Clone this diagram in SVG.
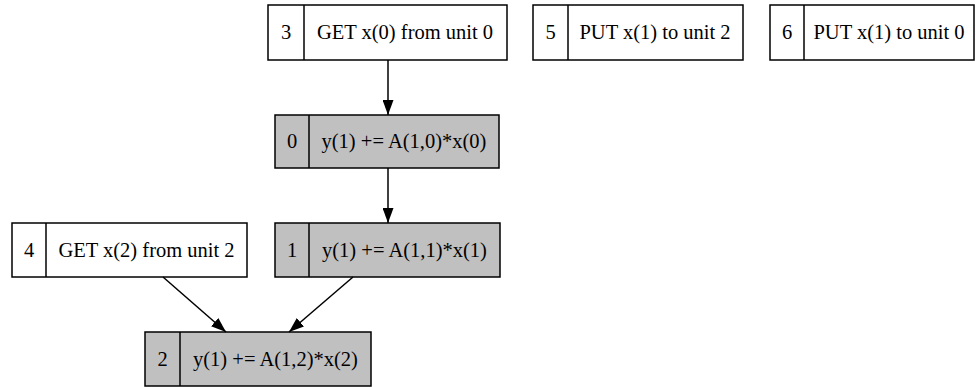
<svg xmlns="http://www.w3.org/2000/svg" width="976" height="387" viewBox="0 0 976 387">
  <style>
    .box { stroke: #000; stroke-width: 1.5; }
    .put { fill: #fff; }
    .op { fill: #c0c0c0; }
    .sep { stroke: #000; stroke-width: 1.5; }
    text { font-family: "Liberation Serif", "Times New Roman", serif; font-size: 20.5px; fill: #000; text-anchor: middle; }
    .edge { stroke: #000; stroke-width: 1.5; fill: none; marker-end: url(#arrow); }
  </style>
  <defs>
    <marker id="arrow" viewBox="0 0 15 11" refX="15" refY="5.5" markerWidth="15" markerHeight="11" markerUnits="userSpaceOnUse" orient="auto">
      <path d="M0,0 L15,5.5 L0,11 Z" fill="#000"/>
    </marker>
  </defs>

  <g id="node3">
    <rect class="box put" x="268" y="5" width="239" height="55"/>
    <line class="sep" x1="304" y1="5" x2="304" y2="60"/>
    <text x="286" y="39">3</text>
    <text x="405" y="39">GET x(0) from unit 0</text>
  </g>

  <g id="node5">
    <rect class="box put" x="533" y="5" width="210" height="55"/>
    <line class="sep" x1="568" y1="5" x2="568" y2="60"/>
    <text x="550.5" y="39">5</text>
    <text x="655" y="39">PUT x(1) to unit 2</text>
  </g>

  <g id="node6">
    <rect class="box put" x="770" y="5" width="204" height="55"/>
    <line class="sep" x1="804" y1="5" x2="804" y2="60"/>
    <text x="787" y="39">6</text>
    <text x="889" y="39">PUT x(1) to unit 0</text>
  </g>

  <g id="node0">
    <rect class="box op" x="275" y="115" width="224" height="53"/>
    <line class="sep" x1="309" y1="115" x2="309" y2="168"/>
    <text x="292" y="148">0</text>
    <text x="404" y="148">y(1) += A(1,0)*x(0)</text>
  </g>

  <g id="node4">
    <rect class="box put" x="12" y="223" width="235" height="54"/>
    <line class="sep" x1="46" y1="223" x2="46" y2="277"/>
    <text x="29" y="257">4</text>
    <text x="146.5" y="257">GET x(2) from unit 2</text>
  </g>

  <g id="node1">
    <rect class="box op" x="275" y="223" width="225" height="54"/>
    <line class="sep" x1="309" y1="223" x2="309" y2="277"/>
    <text x="292" y="257">1</text>
    <text x="404.5" y="257">y(1) += A(1,1)*x(1)</text>
  </g>

  <g id="node2">
    <rect class="box op" x="145" y="332" width="226" height="54"/>
    <line class="sep" x1="180" y1="332" x2="180" y2="386"/>
    <text x="162.5" y="366">2</text>
    <text x="275.5" y="366">y(1) += A(1,2)*x(2)</text>
  </g>

  <g id="edges">
    <line class="edge" x1="388" y1="60" x2="388" y2="115"/>
    <line class="edge" x1="388" y1="168" x2="388" y2="223"/>
    <line class="edge" x1="163" y1="277" x2="226" y2="332"/>
    <line class="edge" x1="353" y1="277" x2="289" y2="332"/>
  </g>
</svg>
